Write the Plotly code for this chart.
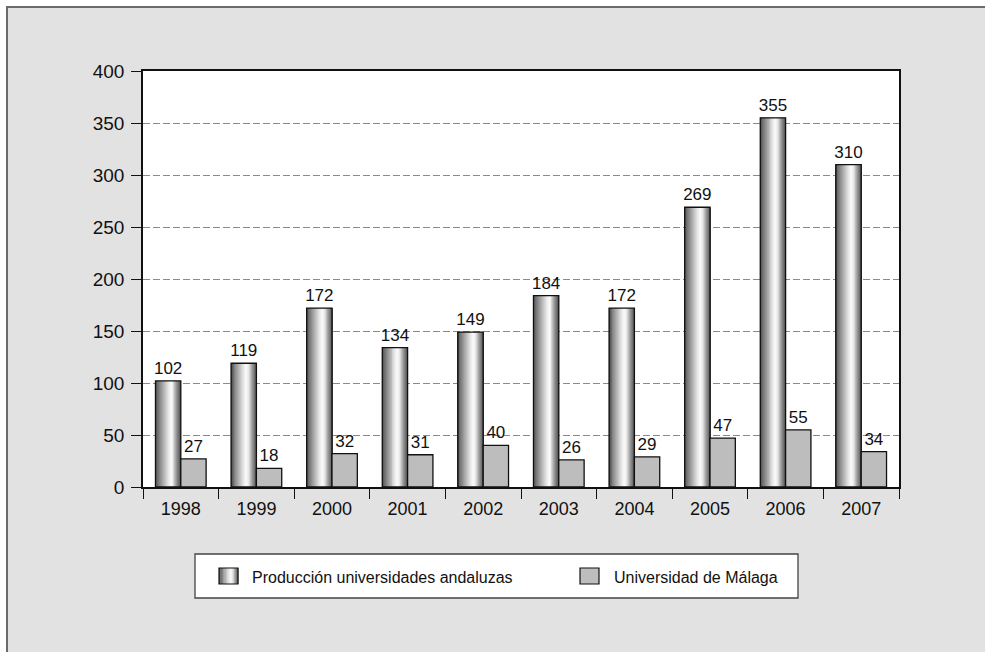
import plotly.graph_objects as go

years = ["1998", "1999", "2000", "2001", "2002", "2003", "2004", "2005", "2006", "2007"]
produccion = [102, 119, 172, 134, 149, 184, 172, 269, 355, 310]
malaga = [27, 18, 32, 31, 40, 26, 29, 47, 55, 34]
series_names = ["Producción universidades andaluzas", "Universidad de Málaga"]
y_ticks = [0, 50, 100, 150, 200, 250, 300, 350, 400]

FONT = "Liberation Sans, Arial, Helvetica, sans-serif"
W, H = 985, 652
L, R, T, B = 143, 86, 71, 165
PW, PH = W - L - R, H - T - B


def px(x):
    return (x - L) / PW


def py(y):
    return (H - B - y) / PH


# cylinder-like shading profile (position, grey level)
stops = [(0.0, 0x48), (0.12, 0x74), (0.3, 0xa8), (0.5, 0xe2), (0.62, 0xfb),
         (0.72, 0xe6), (0.85, 0x9c), (1.0, 0x58)]


def shade(t):
    for (t0, g0), (t1, g1) in zip(stops[:-1], stops[1:]):
        if t0 <= t <= t1:
            g = int(round(g0 + (g1 - g0) * (t - t0) / (t1 - t0)))
            return f"rgb({g},{g},{g})"
    g = stops[-1][1]
    return f"rgb({g},{g},{g})"


fig = go.Figure()
bw = 0.335
N = 26
sw = bw / N
for i in range(N):
    t = (i + 0.5) / N
    fig.add_trace(go.Bar(
        x=years, y=produccion, width=sw * 1.15, offset=-bw + i * sw,
        marker=dict(color=shade(t), line=dict(width=0)),
        showlegend=False, hoverinfo="skip"))

fig.add_trace(go.Bar(
    x=years, y=produccion, width=bw, offset=-bw, name=series_names[0],
    marker=dict(color="rgba(0,0,0,0)", line=dict(color="#111", width=1.3)),
    text=[str(v) for v in produccion], textposition="outside", constraintext="none",
    textfont=dict(size=17, color="#111", family=FONT), cliponaxis=False,
    showlegend=False))

fig.add_trace(go.Bar(
    x=years, y=malaga, width=bw, offset=0, name=series_names[1],
    marker=dict(color="#bdbdbd", line=dict(color="#111", width=1.3)),
    text=[str(v) for v in malaga], textposition="outside", constraintext="none",
    textfont=dict(size=17, color="#111", family=FONT), cliponaxis=False,
    showlegend=False))

shapes = []
# white margins outside the grey frame + frame lines
shapes.append(dict(type="rect", xref="paper", yref="paper", x0=px(-20), x1=px(6),
                   y0=py(H + 20), y1=py(-20), fillcolor="white", line=dict(width=0), layer="below"))
shapes.append(dict(type="rect", xref="paper", yref="paper", x0=px(-20), x1=px(W + 20),
                   y0=py(6), y1=py(-20), fillcolor="white", line=dict(width=0), layer="below"))
shapes.append(dict(type="line", xref="paper", yref="paper", x0=px(7), x1=px(7),
                   y0=py(6), y1=py(H + 20), line=dict(color="#6a6a6a", width=2)))
shapes.append(dict(type="line", xref="paper", yref="paper", x0=px(6), x1=px(W + 20),
                   y0=py(7), y1=py(7), line=dict(color="#6a6a6a", width=2)))

# legend box
shapes.append(dict(type="rect", xref="paper", yref="paper", x0=px(195), x1=px(798),
                   y0=py(598), y1=py(554), fillcolor="white", line=dict(color="#444", width=1.3)))
# gradient swatch
sx0, sx1, sy0, sy1 = 219, 238, 568, 584
M = 14
for i in range(M):
    t = (i + 0.5) / M
    a = sx0 + (sx1 - sx0) * i / M
    b = sx0 + (sx1 - sx0) * (i + 1) / M
    shapes.append(dict(type="rect", xref="paper", yref="paper", x0=px(a), x1=px(b + 0.4),
                       y0=py(sy1), y1=py(sy0), fillcolor=shade(t), line=dict(width=0)))
shapes.append(dict(type="rect", xref="paper", yref="paper", x0=px(sx0), x1=px(sx1),
                   y0=py(sy1), y1=py(sy0), fillcolor="rgba(0,0,0,0)", line=dict(color="#111", width=1.2)))
shapes.append(dict(type="rect", xref="paper", yref="paper", x0=px(580), x1=px(599),
                   y0=py(sy1), y1=py(sy0), fillcolor="#bdbdbd", line=dict(color="#111", width=1.2)))

annotations = [
    dict(x=px(250), y=py(577), xref="paper", yref="paper", text=series_names[0],
         showarrow=False, xanchor="left", yanchor="middle",
         font=dict(size=16, color="#111", family=FONT)),
    dict(x=px(612), y=py(577), xref="paper", yref="paper", text=series_names[1],
         showarrow=False, xanchor="left", yanchor="middle",
         font=dict(size=16, color="#111", family=FONT)),
]

fig.update_layout(
    width=W, height=H, margin=dict(l=L, r=R, t=T, b=B),
    paper_bgcolor="#e2e2e2", plot_bgcolor="white",
    barmode="overlay", showlegend=False,
    font=dict(family=FONT, color="#111"),
    shapes=shapes, annotations=annotations,
    xaxis=dict(type="category", tickson="boundaries", ticks="outside", ticklen=10,
               tickcolor="#111", tickwidth=1.3, showline=True, linecolor="#111",
               linewidth=1.5, mirror=True, showgrid=False, ticklabelstandoff=5,
               tickfont=dict(size=18, family=FONT, color="#111")),
    yaxis=dict(range=[0, 400], tickvals=y_ticks, ticks="outside", ticklen=10,
               tickcolor="#111", tickwidth=1.3, showline=True, linecolor="#111",
               linewidth=1.5, mirror=True, showgrid=True, gridcolor="#8a8a8a",
               griddash="7px,3px", gridwidth=1, zeroline=False, ticklabelstandoff=3,
               tickfont=dict(size=19, family=FONT, color="#111")),
)

fig.write_html(
    "out.html",
    config={"displayModeBar": False},
    post_script="document.body.style.margin='0';document.body.style.overflow='hidden';",
)
